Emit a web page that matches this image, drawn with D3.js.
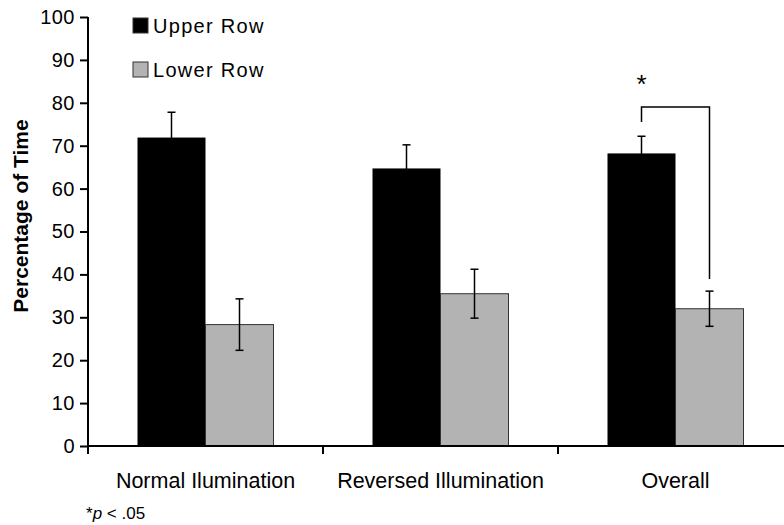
<!DOCTYPE html>
<html>
<head>
<meta charset="utf-8">
<script src="https://cdn.jsdelivr.net/npm/d3@7"></script>
<style>
  body { margin: 0; background: #fff; }
  svg { display: block; font-family: "Liberation Sans", Arial, sans-serif; }
</style>
</head>
<body>
<div class="chart-section"></div>
<script>
const categories = ["Normal Ilumination", "Reversed Illumination", "Overall"];
const seriesNames = ["Upper Row", "Lower Row"];
const upperMeans = [71.9, 64.7, 68.2];
const upperErrors = [5.9, 5.5, 4.0];
const lowerMeans = [28.3, 35.5, 32.0];
const lowerErrors = [6.0, 5.7, 4.1];
const yTicks = [0, 10, 20, 30, 40, 50, 60, 70, 80, 90, 100];
// significance bracket: [category, top, left end, right end]
const bracket = ["Overall", 79, 75.5, 38.9];

const width = 784;
const height = 525;
const colors = { "Upper Row": "#000", "Lower Row": "#b3b3b3" };

const svg = d3
  .select(".chart-section")
  .append("svg")
  .attr("width", width)
  .attr("height", height);

const y = d3.scaleLinear().domain([0, 100]).range([446, 17]);
const x = d3.scaleBand().domain(categories).range([88, 793]);
const bw = x.bandwidth();
const xSub = d3
  .scaleBand()
  .domain(seriesNames)
  .range([bw / 2 - 68, bw / 2 + 68]);

const rows = categories.map((c, i) => ({
  category: c,
  values: [
    { series: "Upper Row", mean: upperMeans[i], err: upperErrors[i] },
    { series: "Lower Row", mean: lowerMeans[i], err: lowerErrors[i] },
  ],
}));

const group = svg
  .selectAll("g.cat")
  .data(rows)
  .join("g")
  .attr("class", "cat")
  .attr("transform", (d) => `translate(${x(d.category)},0)`);

group
  .selectAll("rect")
  .data((d) => d.values)
  .join("rect")
  .attr("x", (d) => xSub(d.series))
  .attr("y", (d) => y(d.mean))
  .attr("width", xSub.bandwidth())
  .attr("height", (d) => y(0) - y(d.mean))
  .attr("fill", (d) => colors[d.series])
  .attr("stroke", (d) => (d.series === "Lower Row" ? "#333" : "none"))
  .attr("stroke-width", 1);

// error bars
const err = group
  .selectAll("g.err")
  .data((d) => d.values)
  .join("g")
  .attr("class", "err")
  .attr("transform", (d) => `translate(${xSub(d.series) + xSub.bandwidth() / 2},0)`)
  .attr("stroke", "#000")
  .attr("stroke-width", 1.5);

err
  .append("line")
  .attr("y1", (d) => y(d.mean + d.err))
  .attr("y2", (d) => y(d.mean - d.err));
err
  .append("line")
  .attr("x1", -4)
  .attr("x2", 4)
  .attr("y1", (d) => y(d.mean + d.err))
  .attr("y2", (d) => y(d.mean + d.err));
err
  .append("line")
  .attr("x1", -4)
  .attr("x2", 4)
  .attr("y1", (d) => y(d.mean - d.err))
  .attr("y2", (d) => y(d.mean - d.err));

// y axis
const yAxis = svg
  .append("g")
  .attr("transform", "translate(88,0)")
  .call(
    d3.axisLeft(y).tickValues(yTicks).tickSize(8).tickSizeOuter(0).tickPadding(5)
  );
yAxis.selectAll("path, line").attr("stroke", "#000").attr("stroke-width", 2);
yAxis
  .selectAll("text")
  .attr("font-size", 20)
  .attr("letter-spacing", 0.5)
  .attr("font-family", "Liberation Sans, Arial, sans-serif")
  .attr("fill", "#000");
yAxis.select(".domain").attr("d", `M0,${y(100)}V${y(0)}`);

// x axis
svg
  .append("line")
  .attr("x1", 87)
  .attr("x2", width)
  .attr("y1", y(0))
  .attr("y2", y(0))
  .attr("stroke", "#000")
  .attr("stroke-width", 2);

svg
  .selectAll("line.xtick")
  .data(categories)
  .join("line")
  .attr("class", "xtick")
  .attr("x1", (d) => x(d))
  .attr("x2", (d) => x(d))
  .attr("y1", y(0))
  .attr("y2", y(0) + 8)
  .attr("stroke", "#000")
  .attr("stroke-width", 2);

svg
  .selectAll("text.xlabel")
  .data(categories)
  .join("text")
  .attr("class", "xlabel")
  .attr("x", (d) => x(d) + bw / 2)
  .attr("y", y(0) + 42)
  .attr("text-anchor", "middle")
  .attr("font-size", 21.5)
  .text((d) => d);

// y title
svg
  .append("text")
  .attr("transform", `translate(28,216) rotate(-90)`)
  .attr("text-anchor", "middle")
  .attr("font-size", 21)
  .attr("font-weight", "bold")
  .text("Percentage of Time");

// legend
const legend = svg
  .append("g")
  .selectAll("g")
  .data(seriesNames)
  .join("g")
  .attr("transform", (d, i) => `translate(133,${18 + i * 44})`);

legend
  .append("rect")
  .attr("width", 15)
  .attr("height", 15)
  .attr("fill", (d) => colors[d])
  .attr("stroke", "#333");

legend
  .append("text")
  .attr("x", 20)
  .attr("y", 15)
  .attr("font-size", 20)
  .attr("letter-spacing", 1.3)
  .text((d) => d);

// significance bracket
const bx = x(bracket[0]);
const bLeft = bx + xSub("Upper Row") + xSub.bandwidth() / 2;
const bRight = bx + xSub("Lower Row") + xSub.bandwidth() / 2;
svg
  .append("path")
  .attr(
    "d",
    `M${bLeft},${y(bracket[2])}V${y(bracket[1])}H${bRight}V${y(bracket[3])}`
  )
  .attr("fill", "none")
  .attr("stroke", "#000")
  .attr("stroke-width", 1.5);

svg
  .append("text")
  .attr("x", bLeft)
  .attr("y", y(bracket[1]) - 14)
  .attr("text-anchor", "middle")
  .attr("font-size", 26)
  .text("*");

// footnote
const note = svg.append("text").attr("x", 86).attr("y", 519).attr("font-size", 17);
note.append("tspan").text("*");
note.append("tspan").attr("font-style", "italic").text("p");
note.append("tspan").text(" < .05");
</script>
</body>
</html>
